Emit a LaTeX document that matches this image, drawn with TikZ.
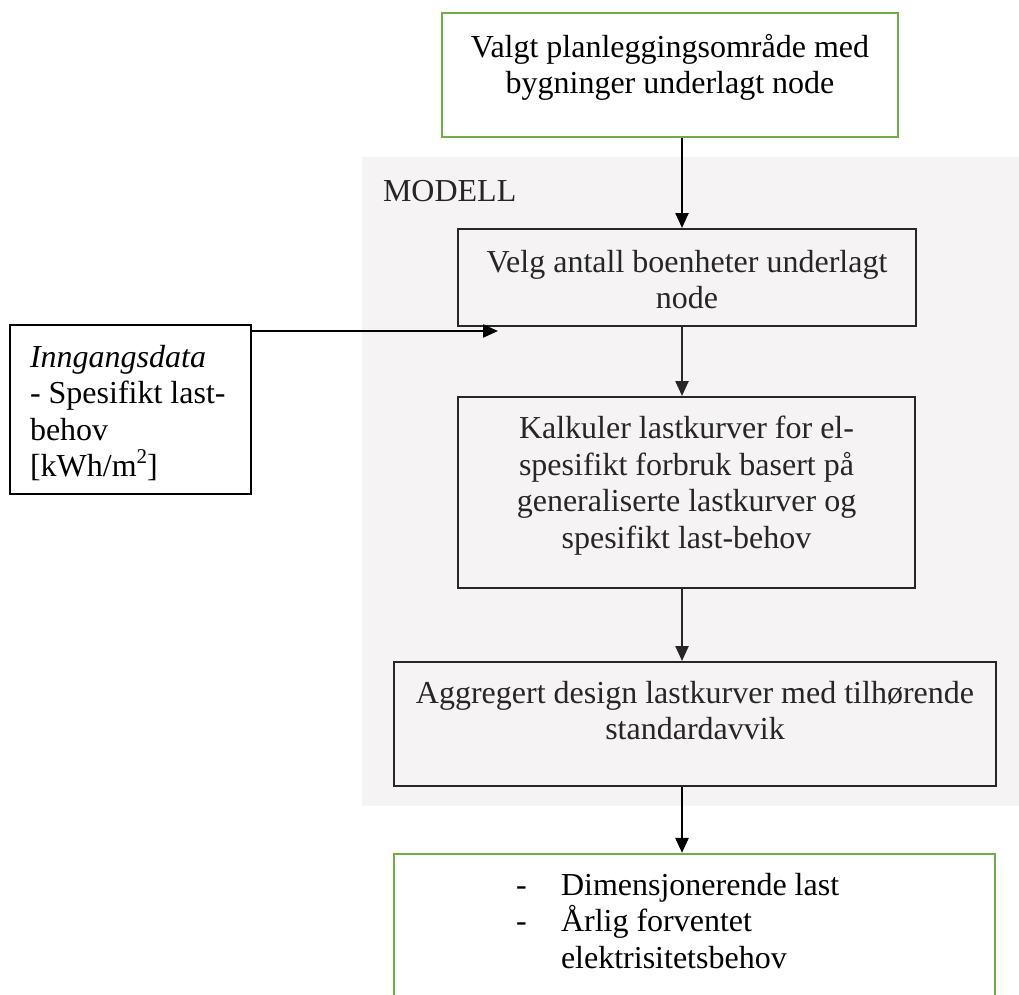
\documentclass[tikz,border=0pt]{standalone}
\usepackage{fontspec}
\setmainfont{Liberation Serif}
\usetikzlibrary{arrows.meta}
\definecolor{boxgreen}{RGB}{112,173,71}
\definecolor{modellgray}{RGB}{245,243,244}
\definecolor{boxline}{RGB}{38,38,38}

\begin{document}
\begin{tikzpicture}[x=1pt,y=-1pt,line width=2pt,
  greenbox/.style={draw=boxgreen,line width=2.2pt,inner sep=0pt},
  greybox/.style={draw=boxline,inner sep=0pt},
  boxtext/.style={inner sep=0pt,align=center,font=\fontsize{32}{36.5}\selectfont},
  flowarrow/.style={-{Triangle[length=15pt,width=13pt]},line width=2.4pt}]

\clip (0,0) rectangle (1019,994);
\fill [modellgray] (362,157) rectangle (1019,806);

\node [greenbox,minimum width=456,minimum height=124] (valgt) at (670,75) {};
\node [greybox,minimum width=458,minimum height=97] (velg) at (687,277.5) {};
\node [draw=black,inner sep=0pt,minimum width=241,minimum height=169] (inputs) at (130.5,409.5) {};
\node [greybox,minimum width=457,minimum height=191] (kalk) at (686.5,492.5) {};
\node [greybox,minimum width=602,minimum height=124] (aggr) at (695,724) {};
\node [greenbox,minimum width=601,minimum height=156] (resultat) at (694.5,932) {};

\node [boxtext,anchor=north] (valgttext) at (670,33) {Valgt planleggingsområde med\\bygninger underlagt node};
\node [boxtext,anchor=base west,text=boxline] (modell) at (382,201) {MODELL};
\node [boxtext,anchor=north,text=boxline] (velgtext) at (687,249) {Velg antall boenheter underlagt\\node};
\node [boxtext,anchor=north west,align=left] (inputtext) at (29,344) {\textit{Inngangsdata}\\- Spesifikt last-\\behov\\{}[kWh/m\raisebox{0.42em}{\fontsize{21}{21}\selectfont 2}]};
\node [boxtext,anchor=north,text=boxline] (kalktext) at (686.5,415) {Kalkuler lastkurver for el-\\spesifikt forbruk basert på\\generaliserte lastkurver og\\spesifikt last-behov};
\node [boxtext,anchor=north,text=boxline] (aggrtext) at (695,680) {Aggregert design lastkurver med tilhørende\\standardavvik};
\node [boxtext,anchor=north west,align=left] (resulttext) at (515,872) {\makebox[45pt][l]{-}Dimensjonerende last\\\makebox[45pt][l]{-}Årlig forventet\\\hspace*{45pt}elektrisitetsbehov};

\coordinate (flowx) at (682,0);
\coordinate (velgin) at (498,331);

\draw [flowarrow,black] (valgt.south -| flowx) -- (velg.north -| flowx);
\draw [flowarrow,black] (velgin -| inputs.east) -- (velgin);
\draw [flowarrow,boxline] (velg.south -| flowx) -- (kalk.north -| flowx);
\draw [flowarrow,boxline] (kalk.south -| flowx) -- (aggr.north -| flowx);
\draw [flowarrow,black] (aggr.south -| flowx) -- (resultat.north -| flowx);

\end{tikzpicture}
\end{document}
